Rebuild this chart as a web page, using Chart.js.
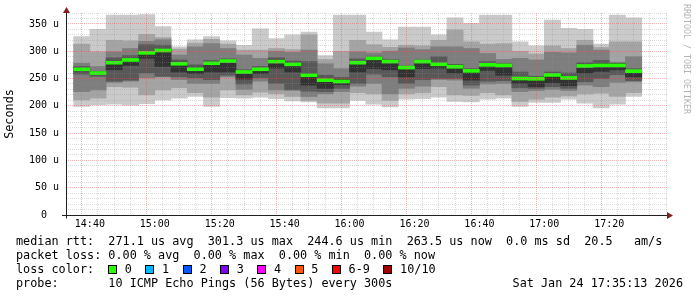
<!DOCTYPE html>
<html>
<head>
<meta charset="utf-8">
<script src="https://cdn.jsdelivr.net/npm/chart.js@4.4.1/dist/chart.umd.min.js"></script>
<style>
  body { margin: 0; background: #fff; }
  #wrap { position: relative; width: 697px; height: 297px; overflow: hidden; font-family: "DejaVu Sans Mono", monospace; }
  #chart { position: absolute; left: 0; top: 0; }
  .ln { position: absolute; font-size: 11.8px; line-height: 14px; height: 14px; white-space: pre; color: #000; }
  .box { position: absolute; top: 265px; width: 9px; height: 9px; box-sizing: border-box; border: 1px solid #000; }
  #mark { position: absolute; left: 682px; top: 4px; writing-mode: vertical-rl; font-size: 8.3px; line-height: 10px; color: #b4b4b4; white-space: pre; }
</style>
</head>
<body>
<div id="wrap">
  <canvas id="chart" width="697" height="297"></canvas>
  <div id="mark">RRDTOOL / TOBI OETIKER</div>
  <div class="ln" style="left:16px;top:234px">median rtt:  271.1 us avg  301.3 us max  244.6 us min  263.5 us now  0.0 ms sd  20.5   am/s</div>
  <div class="ln" style="left:16px;top:248px">packet loss: 0.00 % avg  0.00 % max  0.00 % min  0.00 % now</div>
  <div class="ln" id="loss" style="left:16px;top:262px">loss color:</div>
  <div class="ln" style="left:16px;top:276px">probe:       10 ICMP Echo Pings (56 Bytes) every 300s</div>
  <div class="ln" style="right:14px;top:276px">Sat Jan 24 17:35:13 2026</div>
</div>
<script>
// start of each 5 minute step
const slotStart = ['14:35','14:40','14:45','14:50','14:55','15:00','15:05','15:10','15:15','15:20',
  '15:25','15:30','15:35','15:40','15:45','15:50','15:55','16:00','16:05','16:10',
  '16:15','16:20','16:25','16:30','16:35','16:40','16:45','16:50','16:55','17:00',
  '17:05','17:10','17:15','17:20','17:25'];

// the 10 pings of every step, sorted (us)
const ping1  = [199,202,203,201,204,211,214,217,199,215,214,216,213,209,207,196,196,210,203,198,212,213,216,208,207,212,214,199,206,206,212,205,196,203,217];
const ping2  = [211,214,235,234,220,229,233,224,216,229,220,225,222,217,210,205,205,224,222,210,222,224,235,220,219,224,220,208,212,216,218,222,223,217,224];
const ping3  = [226,229,243,245,251,253,248,241,241,253,230,245,229,229,217,222,226,236,241,222,232,236,248,247,232,240,241,226,228,230,228,238,235,243,244];
const ping4  = [258,254,245,247,260,254,253,251,248,256,240,251,241,229,227,226,232,241,258,253,241,248,250,250,238,245,246,233,232,235,232,244,250,257,246];
const ping5  = [264,257,266,274,287,272,262,259,262,262,249,259,269,262,238,232,239,262,268,266,253,268,269,260,247,265,256,241,235,242,237,260,263,266,253];
const ping6  = [270,262,282,286,299,303,280,270,281,284,264,269,284,279,259,249,248,281,289,283,272,283,278,274,266,277,276,252,252,259,253,275,277,277,265];
const ping7  = [272,263,288,292,312,311,284,275,283,286,266,272,288,282,281,256,252,286,291,285,273,284,290,276,268,281,278,262,254,262,260,279,283,278,268];
const ping8  = [278,272,299,305,318,321,293,308,314,305,293,287,300,298,302,277,268,299,297,300,306,303,308,308,305,296,285,287,284,298,297,311,302,280,290];
const ping9  = [313,299,320,319,331,325,304,315,322,313,302,302,305,303,330,285,300,320,312,307,311,310,320,339,317,313,314,300,295,310,305,320,307,317,317];
const ping10 = [327,340,366,366,367,345,308,321,327,319,311,341,323,330,335,292,366,366,335,321,344,344,330,361,351,366,366,317,310,357,342,340,313,366,361];
const median = [267,260,279,284,297,301.3,277,267,278,282,262,267,281,276,256,247,244.6,279,287,281,270,281,276,271.5,264,275,274,250,249.5,256.5,251,273,274,274,263.5];

const xTickLabels = ['14:40','15:00','15:20','15:40','16:00','16:20','16:40','17:00','17:20'];
const lossLabels = ['0','1','2','3','4','5','6-9','10/10'];
const lossColors = ['#26ff00','#00b8ff','#0059ff','#7e00ff','#ff00ff','#ff5500','#ff0000','#a10000'];

// minutes relative to 14:40
function toMin(t) {
  const p = t.split(':').map(Number);
  return p[0] * 60 + p[1] + (p[2] || 0) / 60 - (14 * 60 + 40);
}
const xMin = toMin('14:35:13');
const xMax = toMin('17:35:13');
const centers = slotStart.map(s => toMin(s) + 2.5);

const pings = [ping1, ping2, ping3, ping4, ping5, ping6, ping7, ping8, ping9, ping10];
const smokeColors = ['#cacaca', '#a4a4a4', '#7e7e7e', '#585858', '#323232'];

const datasets = [{
  data: centers.map((x, i) => ({x: x, y: [median[i] - 2.75, median[i] + 2.75]})),
  backgroundColor: lossColors[0]
}];
for (let k = 4; k >= 0; k--) {
  datasets.push({
    data: centers.map((x, i) => ({x: x, y: [pings[k][i], pings[9 - k][i]]})),
    backgroundColor: smokeColors[k]
  });
}
datasets.forEach(d => {
  d.grouped = false;
  d.barPercentage = 1;
  d.categoryPercentage = 1;
  d.borderWidth = 0;
  d.clip = 0;
});

const minorGrid = 'rgba(143,143,143,0.32)';
const majorGrid = 'rgba(222,79,79,0.42)';

const axes = {
  id: 'axes',
  afterDraw(chart) {
    const ctx = chart.ctx;
    const a = chart.chartArea;
    const yb = Math.round(a.bottom) + 0.5;
    const xl = Math.round(a.left) + 0.5;
    ctx.save();
    ctx.strokeStyle = '#1f1f1f';
    ctx.lineWidth = 1;
    ctx.beginPath();
    ctx.moveTo(a.left - 4, yb);
    ctx.lineTo(a.right + 1, yb);
    ctx.moveTo(xl, yb + 3);
    ctx.lineTo(xl, a.top - 2);
    ctx.stroke();
    ctx.fillStyle = 'rgb(128,31,31)';
    ctx.beginPath();
    ctx.moveTo(a.right, yb - 3.5);
    ctx.lineTo(a.right + 6, yb);
    ctx.lineTo(a.right, yb + 3.5);
    ctx.fill();
    ctx.beginPath();
    ctx.moveTo(xl - 3.5, a.top);
    ctx.lineTo(xl, a.top - 6);
    ctx.lineTo(xl + 3.5, a.top);
    ctx.fill();
    ctx.restore();
  }
};

Chart.defaults.font.family = "'DejaVu Sans Mono', monospace";
Chart.defaults.color = '#000';

new Chart(document.getElementById('chart'), {
  type: 'bar',
  data: { datasets: datasets },
  options: {
    responsive: false,
    animation: false,
    events: [],
    layout: { padding: { top: 13, right: 30, left: 0, bottom: 0 } },
    plugins: { legend: { display: false }, tooltip: { enabled: false } },
    scales: {
      x: {
        type: 'linear',
        min: xMin,
        max: xMax,
        afterBuildTicks: s => {
          const t = [];
          for (let v = 0; v <= 175; v += 5) t.push({ value: v });
          s.ticks = t;
        },
        afterFit: s => { s.height = 82; },
        grid: {
          z: 1,
          drawTicks: false,
          color: c => (c.tick && c.tick.value % 20 === 0) ? majorGrid : minorGrid
        },
        border: { display: false, dash: [1, 1] },
        ticks: {
          autoSkip: false,
          maxRotation: 0,
          padding: 3,
          font: { size: 10 },
          callback: v => (v % 20 === 0 && xTickLabels[v / 20]) ? xTickLabels[v / 20] : ''
        }
      },
      y: {
        min: 0,
        max: 370,
        afterBuildTicks: s => {
          const t = [];
          for (let v = 0; v <= 370; v += 10) t.push({ value: v });
          s.ticks = t;
        },
        afterFit: s => { s.width = 66; },
        grid: {
          z: 1,
          drawTicks: false,
          color: c => (c.tick && c.tick.value % 50 === 0) ? majorGrid : minorGrid
        },
        border: { display: false, dash: [1, 1] },
        ticks: {
          autoSkip: false,
          padding: 7,
          font: { size: 10 },
          callback: v => v === 0 ? '0  ' : (v % 50 === 0 ? v + ' u' : '')
        },
        title: {
          display: true,
          text: 'Seconds',
          font: { size: 11.8 },
          padding: { top: 3, bottom: 0 }
        }
      }
    }
  },
  plugins: [axes]
});

// loss colour boxes
const lossRow = document.getElementById('loss');
const wrap = document.getElementById('wrap');
let lx = 108;
lossLabels.forEach((lab, i) => {
  const b = document.createElement('span');
  b.className = 'box';
  b.style.left = lx + 'px';
  b.style.background = lossColors[i];
  wrap.appendChild(b);
  const t = document.createElement('div');
  t.className = 'ln';
  t.style.left = (lx + 16.8) + 'px';
  t.style.top = lossRow.style.top;
  t.textContent = lab;
  wrap.appendChild(t);
  lx += 16.8 + lab.length * 7.1 + 13.4;
});
</script>
</body>
</html>
